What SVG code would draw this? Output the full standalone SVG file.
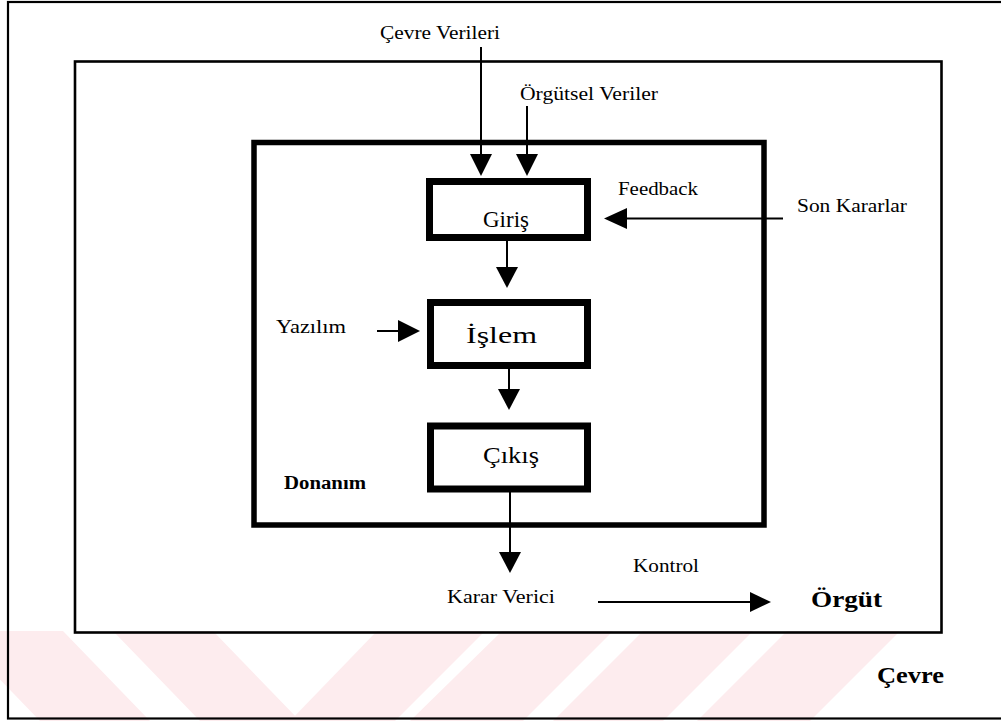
<svg xmlns="http://www.w3.org/2000/svg" width="1001" height="721" viewBox="0 0 1001 721">
  <style>
    .frame { fill: none; stroke: #000; }
    .lbl { font-family: "Liberation Serif", "Times New Roman", serif; font-size: 19px; fill: #000; }
    .box-lbl { font-family: "Liberation Serif", "Times New Roman", serif; font-size: 24px; fill: #000; }
    .bold { font-family: "Liberation Serif", "Times New Roman", serif; font-weight: bold; fill: #000; }
    .wire { fill: none; stroke: #000; stroke-width: 2; }
    .head { fill: #000; }
    .stripe { fill: #fdecee; }
  </style>

  <rect width="1001" height="721" fill="#fff"/>

  <!-- faint diagonal background stripes along the bottom -->
  <g id="stripes">
    <polygon class="stripe" points="-47,631 63,631 150,721 40,721"/>
    <polygon class="stripe" points="113,631 213,631 300,721 200,721"/>
    <polygon class="stripe" points="377,631 485,631 395,721 290,721"/>
    <polygon class="stripe" points="502,631 613,631 523,721 410,721"/>
    <polygon class="stripe" points="643,631 753,631 663,721 553,721"/>
    <polygon class="stripe" points="787,631 900,631 810,721 697,721"/>
  </g>

  <!-- environment frame -->
  <g id="cevre">
    <rect class="frame" x="8" y="2" width="996" height="716.5" stroke-width="2.2"/>
    <text class="bold" x="877" y="683" font-size="24" textLength="67" lengthAdjust="spacingAndGlyphs">Çevre</text>
  </g>

  <!-- organisation frame -->
  <g id="orgut">
    <rect class="frame" x="75" y="61.5" width="866.5" height="571" stroke-width="2.6"/>
    <text class="bold" x="811" y="607" font-size="24" textLength="71" lengthAdjust="spacingAndGlyphs">Örgüt</text>
  </g>

  <!-- hardware frame -->
  <g id="donanim">
    <rect class="frame" x="254" y="142.5" width="510" height="382.5" stroke-width="5.5"/>
    <text class="bold" x="284" y="489" font-size="18" textLength="82" lengthAdjust="spacingAndGlyphs">Donanım</text>
  </g>

  <!-- processing stages -->
  <g id="giris">
    <rect class="frame" x="429.5" y="181.5" width="158" height="56" stroke-width="7" fill="#fff"/>
    <text class="box-lbl" x="483" y="227" textLength="46" lengthAdjust="spacingAndGlyphs">Giriş</text>
  </g>
  <g id="islem">
    <rect class="frame" x="430.5" y="302.5" width="157" height="63" stroke-width="7" fill="#fff"/>
    <text class="box-lbl" x="466" y="343" textLength="71" lengthAdjust="spacingAndGlyphs">İşlem</text>
  </g>
  <g id="cikis">
    <rect class="frame" x="430.5" y="426" width="157" height="63" stroke-width="7" fill="#fff"/>
    <text class="box-lbl" x="483" y="463" textLength="56" lengthAdjust="spacingAndGlyphs">Çıkış</text>
  </g>

  <!-- external inputs and outputs -->
  <g id="cevre-verileri">
    <text class="lbl" x="380" y="39" textLength="120" lengthAdjust="spacingAndGlyphs">Çevre Verileri</text>
  </g>
  <g id="orgutsel-veriler">
    <text class="lbl" x="520" y="100" textLength="138" lengthAdjust="spacingAndGlyphs">Örgütsel Veriler</text>
  </g>
  <g id="son-kararlar">
    <text class="lbl" x="618" y="195" textLength="80" lengthAdjust="spacingAndGlyphs">Feedback</text>
    <text class="lbl" x="797" y="212" textLength="110" lengthAdjust="spacingAndGlyphs">Son Kararlar</text>
  </g>
  <g id="yazilim">
    <text class="lbl" x="276" y="333" textLength="70" lengthAdjust="spacingAndGlyphs">Yazılım</text>
  </g>
  <g id="karar-verici">
    <text class="lbl" x="447" y="603" textLength="108" lengthAdjust="spacingAndGlyphs">Karar Verici</text>
    <text class="lbl" x="633" y="572" textLength="66" lengthAdjust="spacingAndGlyphs">Kontrol</text>
  </g>

  <!-- connectors -->
  <g id="connectors">
    <line class="wire" x1="481" y1="47" x2="481" y2="156"/>
    <polygon class="head" points="470,154 492,154 481,176"/>

    <line class="wire" x1="527" y1="106" x2="527" y2="156"/>
    <polygon class="head" points="516,154 538,154 527,176"/>

    <line class="wire" x1="783" y1="218.5" x2="624" y2="218.5"/>
    <polygon class="head" points="627,208 627,229 604,218.5"/>

    <line class="wire" x1="507" y1="241" x2="507" y2="268"/>
    <polygon class="head" points="496,267 518,267 507,288"/>

    <line class="wire" x1="377" y1="331" x2="400" y2="331"/>
    <polygon class="head" points="398,320 398,342 420,331"/>

    <line class="wire" x1="509" y1="369" x2="509" y2="391"/>
    <polygon class="head" points="498,389 520,389 509,410"/>

    <line class="wire" x1="510" y1="492" x2="510" y2="553"/>
    <polygon class="head" points="499,552 521,552 510,573"/>

    <line class="wire" x1="598" y1="602" x2="752" y2="602"/>
    <polygon class="head" points="750,592 750,612 771,602"/>
  </g>
</svg>
